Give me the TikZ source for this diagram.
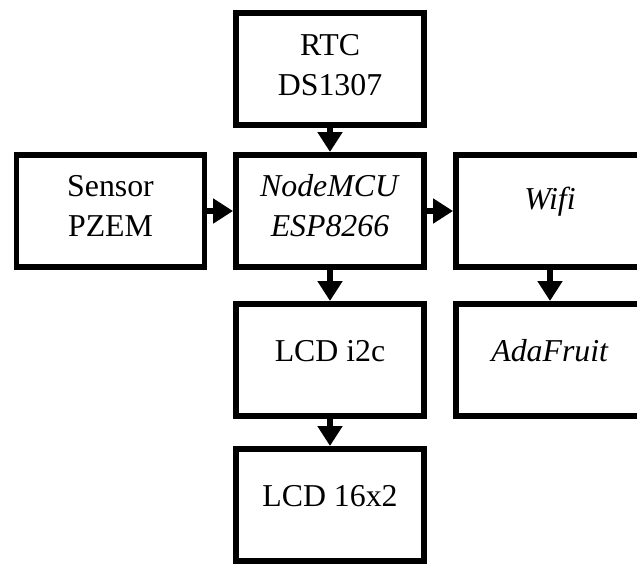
\documentclass[tikz,border=0pt]{standalone}
\usepackage{fontspec}
\setmainfont{Liberation Serif}[Ligatures=NoCommon]
\usetikzlibrary{arrows.meta}
\def\height{42.3pt}
\def\width{70.9pt}
\def\lw{2.2pt}
\newcommand{\boxnode}[5]{\node[minimum height=\height,minimum width=\width,draw,rectangle,line width=\lw,outer sep=\lw/2,inner sep=0pt] (#3) at (#1,#2) {};
	\node[align=center,inner sep=0pt,font=\fontsize{12}{15}\selectfont] at ([yshift=#5]#3) {#4}; }

\begin{document}
\begin{tikzpicture}[x=0.377pt,y=-0.377pt]
				\useasboundingbox (0,0) rectangle (637,563);
				\boxnode{330}{69}{rtc}{RTC\\DS1307}{1.6pt}
				\boxnode{110.5}{211}{sensor}{Sensor\\PZEM}{1.9pt}
				\boxnode{330}{211}{mcu}{\textit{NodeMCU}\\\textit{ESP8266}}{1.9pt}
				\boxnode{550}{211}{wifi}{\textit{Wifi}}{3.4pt}
				\boxnode{330}{360}{lcd}{LCD i2c}{3.4pt}
				\boxnode{550}{360}{ada}{\textit{AdaFruit}}{3.4pt}
				\boxnode{330}{505}{lcdx}{LCD 16x2}{3.4pt}
	
				\draw[-{Triangle[length=7.5pt,width=9pt]},line width=\lw] (rtc) -- (mcu);
				\draw[-{Triangle[length=7.5pt,width=9pt]},line width=\lw] (sensor) -- (mcu);
				\draw[-{Triangle[length=7.5pt,width=9pt]},line width=\lw] (mcu) -- (wifi);
				\draw[-{Triangle[length=7.5pt,width=9pt]},line width=\lw] (mcu) -- (lcd);
				\draw[-{Triangle[length=7.5pt,width=9pt]},line width=\lw] (wifi) -- (ada);
				\draw[-{Triangle[length=7.5pt,width=9pt]},line width=\lw] (lcd) -- (lcdx);
			\end{tikzpicture}
\end{document}
